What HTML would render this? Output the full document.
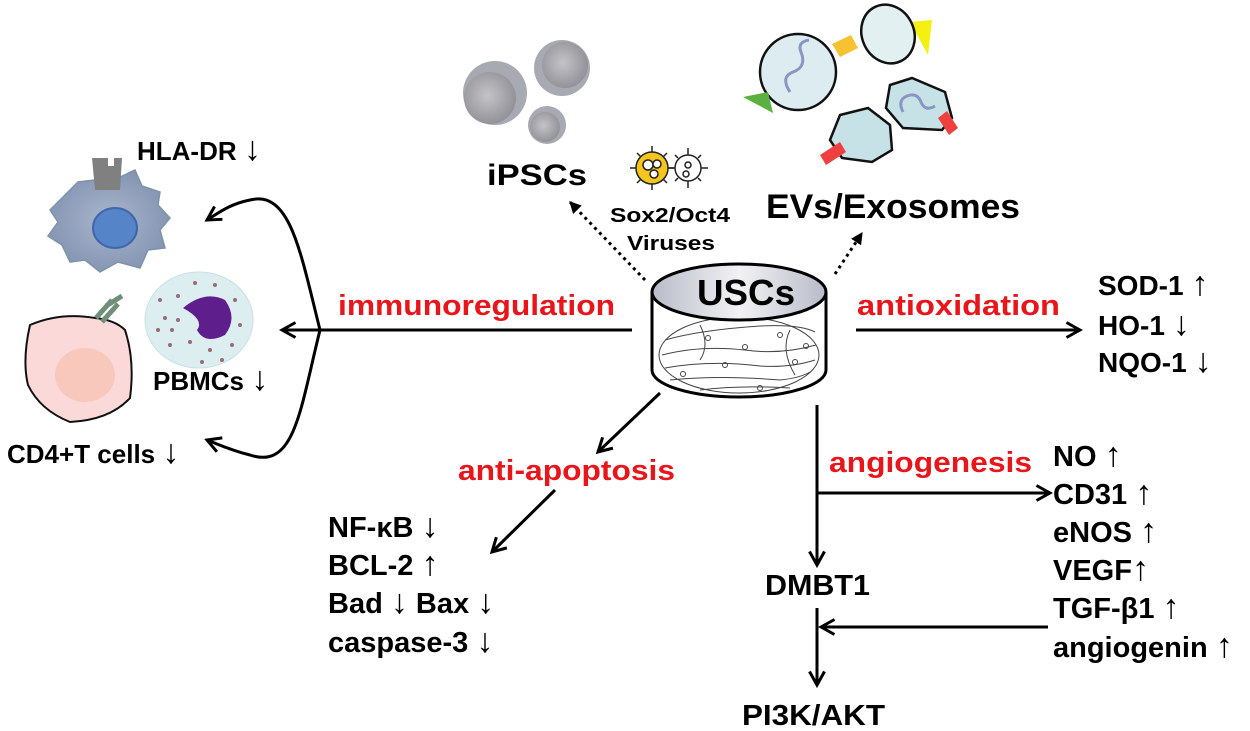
<!DOCTYPE html>
<html><head><meta charset="utf-8"><style>
html,body{margin:0;padding:0;background:#fff;}
svg{display:block;}
text{font-family:"Liberation Sans",sans-serif;font-weight:bold;}
.a{font-weight:normal;font-size:34px;}
</style></head><body>
<svg width="1250" height="731" viewBox="0 0 1250 731" xmlns="http://www.w3.org/2000/svg">
<defs>
<radialGradient id="gs" cx="0.45" cy="0.45" r="0.6"><stop offset="0" stop-color="#c4c4c8"/><stop offset="1" stop-color="#8e8e94"/></radialGradient>
<radialGradient id="gb" cx="0.5" cy="0.5" r="0.6"><stop offset="0" stop-color="#a9b6cc"/><stop offset="1" stop-color="#7f8fae"/></radialGradient>
<linearGradient id="gt" x1="0" x2="1"><stop offset="0" stop-color="#b8bcc8"/><stop offset="0.5" stop-color="#f2f2f4"/><stop offset="1" stop-color="#b8bcc8"/></linearGradient>
<marker id="ah2" viewBox="0 0 12 12" refX="10" refY="6" markerWidth="18" markerHeight="18" markerUnits="userSpaceOnUse" orient="auto"><path d="M1,1 L10,6 L1,11" fill="none" stroke="#000" stroke-width="2"/></marker>
<marker id="af" viewBox="0 0 10 10" refX="9" refY="5" markerWidth="12" markerHeight="12" markerUnits="userSpaceOnUse" orient="auto"><path d="M0,0 L10,5 L0,10z" fill="#000"/></marker>
</defs>

<!-- iPSC spheres -->
<circle cx="495" cy="93" r="32" fill="#a7aab2"/><circle cx="490" cy="98" r="26" fill="url(#gs)"/>
<circle cx="562" cy="68" r="28" fill="#a7aab2"/><circle cx="565" cy="65" r="23" fill="url(#gs)"/>
<circle cx="547" cy="125" r="19" fill="#a7aab2"/><circle cx="545" cy="127" r="15" fill="url(#gs)"/>
<text x="487" y="185" font-size="30" textLength="100" lengthAdjust="spacingAndGlyphs">iPSCs</text>

<!-- viruses -->
<g stroke="#222" stroke-width="1.5">
<g transform="translate(652,168)">
<path d="M0,-22V-15M0,22V15M-22,0H-15M22,0H15M-15,-15L-11,-11M15,15L11,11M-15,15L-11,11M15,-15L11,-11"/>
<circle r="16" fill="#f4c51c"/><circle cx="-4" cy="-3" r="5" fill="#fff"/><circle cx="5" cy="-4" r="4" fill="#fff"/><circle cx="2" cy="6" r="4" fill="#fff"/></g>
<g transform="translate(688,168)">
<path d="M0,-20V-13M0,20V13M-20,0H-13M20,0H13M-13,-13L-10,-10M13,13L10,10M-13,13L-10,10M13,-13L10,-10"/>
<circle r="13" fill="#fff"/><circle cx="0" cy="-3" r="3" fill="#fff"/><circle cx="-2" cy="6" r="3" fill="#fff"/></g>
</g>
<text x="610" y="222" font-size="20" textLength="120" lengthAdjust="spacingAndGlyphs">Sox2/Oct4</text>
<text x="627" y="250" font-size="20" textLength="88" lengthAdjust="spacingAndGlyphs">Viruses</text>

<!-- exosomes -->
<polygon points="832,44 851,35 858,48 840,57" fill="#f6c232"/>
<polygon points="910,22 932,20 928,55" fill="#f4f010"/>
<circle cx="798" cy="72" r="38" fill="#dcecf0" stroke="#111" stroke-width="2.5"/>
<path d="M790,92 q-10,-15 3,-20 q14,-5 8,-20 q-4,-10 8,-12" fill="none" stroke="#8c94c4" stroke-width="3"/>
<polygon points="743,97 768,92 773,113" fill="#5ab140"/>
<ellipse cx="888" cy="34" rx="26" ry="30" transform="rotate(-25 888 34)" fill="#e2f0f2" stroke="#111" stroke-width="2.5"/>
<path d="M890,85 L912,78 L945,92 L952,118 L942,130 L903,128 L886,108z" fill="#c6e2e6" stroke="#111" stroke-width="2.5"/>
<path d="M903,112 q-6,-12 4,-16 q10,-4 14,6 q4,10 14,4" fill="none" stroke="#8c94c4" stroke-width="3"/>
<polygon points="938,118 947,111 958,128 949,135" fill="#ef4040"/>
<path d="M840,115 L868,108 L890,125 L892,150 L872,162 L842,158 L830,140z" fill="#c6e2e6" stroke="#111" stroke-width="2.5"/>
<polygon points="820,155 840,142 846,152 826,165" fill="#ef4040"/>
<text x="766" y="218" font-size="34" textLength="254" lengthAdjust="spacingAndGlyphs">EVs/Exosomes</text>

<!-- dotted arrows -->
<line x1="645" y1="280" x2="570" y2="202" stroke="#000" stroke-width="3" stroke-dasharray="3,4" marker-end="url(#af)"/>
<line x1="835" y1="274" x2="862" y2="233" stroke="#000" stroke-width="3" stroke-dasharray="3,4" marker-end="url(#af)"/>

<!-- dish -->
<path d="M652,292 V370 A87,27 0 0 0 826,370 V292" fill="#fff" stroke="#000" stroke-width="3"/>
<ellipse cx="739" cy="355" rx="80" ry="38" fill="none" stroke="#444" stroke-width="1"/>
<g stroke="#444" stroke-width="1" fill="none">
<path d="M665,340 Q700,330 760,326 Q800,324 815,332"/><path d="M662,355 Q700,345 745,350 Q780,355 816,345"/>
<path d="M665,368 Q710,360 760,366 Q790,368 815,360"/><path d="M670,380 Q720,375 780,380 Q800,378 810,372"/>
<path d="M700,390 Q740,385 790,388"/><path d="M700,325 Q710,345 700,360"/><path d="M790,330 Q780,350 795,375"/>
<circle cx="708" cy="338" r="2.5"/><circle cx="745" cy="347" r="2.5"/><circle cx="780" cy="335" r="2.5"/><circle cx="725" cy="365" r="2.5"/><circle cx="795" cy="362" r="2.5"/><circle cx="683" cy="374" r="2.5"/><circle cx="760" cy="388" r="2.5"/><circle cx="806" cy="346" r="2.5"/>
</g>
<ellipse cx="739" cy="292" rx="87" ry="28" fill="url(#gt)" stroke="#000" stroke-width="3"/>
<text x="697" y="305" font-size="36" textLength="98" lengthAdjust="spacingAndGlyphs">USCs</text>

<!-- immunoregulation -->
<line x1="632" y1="330" x2="282" y2="330" stroke="#000" stroke-width="3" marker-end="url(#ah2)"/>
<text x="338" y="315" font-size="29" fill="#e8151b" textLength="277" lengthAdjust="spacingAndGlyphs">immunoregulation</text>
<path d="M320,330 C300,250 290,190 250,200 C230,204 220,212 207,220" fill="none" stroke="#000" stroke-width="3" marker-end="url(#ah2)"/>
<path d="M320,330 C300,410 295,470 250,455 C230,450 220,445 207,440" fill="none" stroke="#000" stroke-width="3" marker-end="url(#ah2)"/>

<!-- cells -->
<path d="M60,200 L78,182 L95,180 L103,172 L118,178 L135,170 L142,186 L160,192 L158,205 L170,218 L160,230 L165,248 L148,250 L140,268 L118,262 L100,272 L85,260 L70,262 L62,245 L48,236 L58,222 L50,210z" fill="url(#gb)" stroke="#7c94a8" stroke-width="1.5"/>
<path d="M92,158 L108,158 L108,166 L114,166 L114,158 L122,158 L120,190 L95,190z" fill="#808080"/>
<ellipse cx="115" cy="228" rx="22" ry="20" fill="#5584c8" stroke="#3f66a8" stroke-width="2"/>
<ellipse cx="199" cy="320" rx="54" ry="48" fill="#ddeef0" stroke="#c8e0e4"/>
<path d="M183,308 Q205,290 225,300 Q238,318 225,335 Q205,345 197,330 Q205,320 183,308z" fill="#5e1f8c"/>
<g fill="#9a6a7a"><circle cx="160" cy="300" r="2"/><circle cx="165" cy="318" r="2"/><circle cx="172" cy="330" r="2"/><circle cx="178" cy="296" r="2"/><circle cx="190" cy="342" r="2"/><circle cx="210" cy="350" r="2"/><circle cx="232" cy="345" r="2"/><circle cx="240" cy="325" r="2"/><circle cx="235" cy="300" r="2"/><circle cx="215" cy="285" r="2"/><circle cx="195" cy="283" r="2"/><circle cx="170" cy="345" r="2"/><circle cx="158" cy="330" r="2"/><circle cx="178" cy="320" r="2"/><circle cx="222" cy="360" r="2"/><circle cx="202" cy="362" r="2"/></g>
<path d="M30,325 Q60,312 95,318 Q115,320 125,330 Q135,360 130,398 Q110,420 70,422 Q40,410 28,385 Q22,360 30,325z" fill="#fbd9d8" stroke="#111" stroke-width="2"/>
<ellipse cx="85" cy="375" rx="30" ry="27" fill="#f8c8bc"/>
<path d="M96,318 L112,300 M102,322 L118,304 M106,306 L122,296" stroke="#6f8f7a" stroke-width="5"/>
<text x="137" y="160" font-size="26">HLA-DR <tspan class="a">↓</tspan></text>
<text x="153" y="390" font-size="26">PBMCs <tspan class="a">↓</tspan></text>
<text x="7" y="463" font-size="26">CD4+T cells <tspan class="a">↓</tspan></text>

<!-- antioxidation -->
<line x1="856" y1="330" x2="1080" y2="330" stroke="#000" stroke-width="3" marker-end="url(#ah2)"/>
<text x="857" y="315" font-size="29" fill="#e8151b" textLength="203" lengthAdjust="spacingAndGlyphs">antioxidation</text>
<text x="1098" y="295" font-size="28">SOD-1 <tspan class="a">↑</tspan></text>
<text x="1098" y="335" font-size="28">HO-1 <tspan class="a">↓</tspan></text>
<text x="1098" y="372" font-size="28">NQO-1 <tspan class="a">↓</tspan></text>

<!-- anti-apoptosis -->
<line x1="660" y1="393" x2="598" y2="452" stroke="#000" stroke-width="3" marker-end="url(#ah2)"/>
<text x="458" y="480" font-size="29" fill="#e8151b" textLength="217" lengthAdjust="spacingAndGlyphs">anti-apoptosis</text>
<line x1="555" y1="490" x2="492" y2="552" stroke="#000" stroke-width="3" marker-end="url(#ah2)"/>
<text x="328" y="537" font-size="29">NF-κB <tspan class="a">↓</tspan></text>
<text x="328" y="575" font-size="29">BCL-2 <tspan class="a">↑</tspan></text>
<text x="328" y="613" font-size="29">Bad <tspan class="a">↓</tspan> Bax <tspan class="a">↓</tspan></text>
<text x="328" y="652" font-size="29">caspase-3 <tspan class="a">↓</tspan></text>

<!-- angiogenesis -->
<line x1="817" y1="405" x2="817" y2="565" stroke="#000" stroke-width="3" marker-end="url(#ah2)"/>
<line x1="817" y1="493" x2="1050" y2="493" stroke="#000" stroke-width="3" marker-end="url(#ah2)"/>
<text x="829" y="472" font-size="29" fill="#e8151b" textLength="203" lengthAdjust="spacingAndGlyphs">angiogenesis</text>
<text x="765" y="595" font-size="29" textLength="105" lengthAdjust="spacingAndGlyphs">DMBT1</text>
<line x1="817" y1="608" x2="817" y2="685" stroke="#000" stroke-width="3" marker-end="url(#ah2)"/>
<line x1="1048" y1="627" x2="821" y2="627" stroke="#000" stroke-width="3" marker-end="url(#ah2)"/>
<text x="742" y="725" font-size="29" textLength="143" lengthAdjust="spacingAndGlyphs">PI3K/AKT</text>
<text x="1053" y="466" font-size="29">NO <tspan class="a">↑</tspan></text>
<text x="1053" y="504" font-size="29">CD31 <tspan class="a">↑</tspan></text>
<text x="1053" y="542" font-size="29">eNOS <tspan class="a">↑</tspan></text>
<text x="1053" y="580" font-size="29">VEGF<tspan class="a">↑</tspan></text>
<text x="1053" y="618" font-size="29">TGF-β1 <tspan class="a">↑</tspan></text>
<text x="1053" y="657" font-size="29">angiogenin <tspan class="a">↑</tspan></text>
</svg>
</body></html>
